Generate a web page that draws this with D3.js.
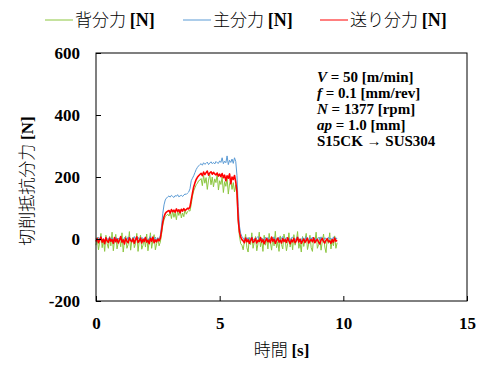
<!DOCTYPE html>
<html>
<head>
<meta charset="utf-8">
<script src="https://cdn.jsdelivr.net/npm/d3@7"></script>
<style>
  body { margin: 0; background: #fff; }
  .jp { font-family: "Noto Sans CJK JP", sans-serif; font-weight: 300; }
  .tm { font-family: "Liberation Serif", "Times New Roman", serif; font-weight: bold; }
</style>
</head>
<body>
<script>
const margin = {top: 53, right: 24, bottom: 77, left: 96};
const W = 491, H = 378;
const width  = W - margin.left - margin.right;
const height = H - margin.top - margin.bottom;

// sampling interval of the logged signal [s]
const sampleStep = 0.05;

const xTicks = [0, 5, 10, 15];
const yTicks = [-200, 0, 200, 400, 600];

const seriesNames  = ["背分力", "主分力", "送り分力"];
const seriesColors = ["#8cc63f", "#5b9bd5", "#ff0000"];

// 背分力 [N]
const backForce = [
  -20,5,-35,-10,18,-28,-2,-40,12,-15,
  -30,8,-22,22,-38,-5,15,-32,-12,3,
  -25,20,-42,-8,10,-30,-18,24,-36,-4,
  6,-28,-14,18,-40,-6,12,-33,-20,2,
  -26,16,-38,-10,20,-30,-4,14,-35,-16,
  4,-22,
  -10,15,45,62,72,76,80,
  74,88,66,92,70,85,62,90,76,95,68,84,72,96,80,88,92,
  90,112,138,155,165,175,180,188,190,
  195,172,205,180,198,160,190,208,175,200,168,194,182,210,158,188,176,200,150,185,170,196,145,178,188,160,182,152,175,
  140,55,10,-15,-20,
  -35,-8,15,-28,-42,5,-18,20,-30,-10,
  8,-38,-15,22,-25,-5,-40,12,-20,3,
  -32,18,-12,-36,6,-22,25,-28,-8,-40,
  10,-18,-32,16,-4,-38,-14,20,-26,2,
  -35,14,-20,-6,24,-30,-12,-42,8,-24,
  -2,18,-34,-16,12,-28,-40,4,-10,22,
  -30,-18,6,-36,-8,16,-26,-44,2,-14,
  20,-32,-6,-22,10,-30,-12
];

// 主分力 [N]
const mainForce = [
  3,-5,6,-2,8,-4,1,-7,5,2,
  -3,7,-6,4,0,-8,6,-1,3,-5,
  9,-2,-6,5,1,-4,7,-3,2,-7,
  4,8,-5,0,6,-3,-8,5,2,-4,
  7,-1,-6,3,9,-5,1,-2,6,-4,
  4,-3,
  12,42,82,110,126,132,136,
  139,135,141,137,134,140,138,143,136,139,141,137,142,145,144,148,152,
  162,188,196,204,214,224,231,236,240,
  243,238,246,241,244,248,240,245,249,243,247,242,250,246,244,252,247,262,243,251,246,268,240,254,247,258,244,262,250,
  205,105,42,18,8,
  3,-4,6,-2,5,-6,2,7,-3,1,
  -5,4,8,-2,-6,3,0,-4,6,-1,
  5,-7,2,4,-3,7,-5,1,-2,6,
  -4,3,8,-6,0,5,-3,2,-7,4,
  6,-2,-5,3,7,-4,1,-6,5,2,
  -3,8,-1,-5,4,0,6,-4,3,-7,
  2,5,-3,7,-2,-6,4,1,-4,6,
  -1,3,-5,7,-2,4,0
];

// 送り分力 [N]
const feedForce = [
  -8,2,-12,-3,6,-10,-1,-15,4,-6,
  -11,3,-7,-2,-14,5,-9,0,-13,-4,
  8,-10,-3,-16,2,-7,-12,4,-5,-9,
  1,-14,-2,7,-11,-6,3,-13,-1,-8,
  5,-10,-4,-15,2,-7,6,-12,-3,-9,
  0,-6,
  2,26,54,72,82,87,90,
  92,84,95,88,93,86,97,89,94,85,96,90,98,92,95,99,97,
  104,126,148,168,181,192,199,204,208,
  212,204,216,208,214,219,206,213,217,209,215,210,207,213,203,209,201,211,198,206,188,204,196,210,178,200,192,205,184,
  152,62,22,6,-2,
  -6,-12,3,-9,-2,-14,-5,4,-11,-7,
  1,-13,-4,-8,5,-10,-2,-15,-6,2,
  -9,-3,-12,6,-7,-1,-14,-5,3,-10,
  -4,-13,1,-8,-2,-11,4,-6,-15,-3,
  -9,2,-12,-5,5,-10,-1,-14,-7,0,
  -11,-4,3,-13,-6,-2,-9,4,-12,-5,
  -1,-10,-16,-3,2,-8,-13,-4,1,-9,
  -6,-14,-2,-10,3,-7,-4
];

const seriesValues = [backForce, mainForce, feedForce];

const svg = d3.select("body").append("svg")
  .attr("width", W)
  .attr("height", H);

const xScale = d3.scaleLinear().domain([0, 15]).range([0, width]);
const yScale = d3.scaleLinear().domain([-200, 600]).range([height, 0]);

const plot = svg.append("g")
  .attr("transform", `translate(${margin.left},${margin.top})`);

const lineGen = d3.line()
  .x((d, i) => xScale(i * sampleStep))
  .y(d => yScale(d));

seriesValues.forEach((vals, k) => {
  plot.append("path")
    .datum(vals)
    .attr("fill", "none")
    .attr("stroke", seriesColors[k])
    .attr("stroke-width", k === 2 ? 1.6 : 1)
    .attr("stroke-linejoin", "round")
    .attr("d", lineGen);
});

// frame
plot.append("rect")
  .attr("width", width)
  .attr("height", height)
  .attr("fill", "none")
  .attr("stroke", "#000")
  .attr("stroke-width", 1);

// plain hyphen for negatives, like the original sheet
const fmt = d => String(d);
const xAxis = d3.axisBottom(xScale).tickValues(xTicks).tickSize(-5).tickPadding(16).tickFormat(fmt);
const yAxis = d3.axisLeft(yScale).tickValues(yTicks).tickSize(-5).tickPadding(16).tickFormat(fmt);

const gx = plot.append("g").attr("transform", `translate(0,${height})`).call(xAxis);
const gy = plot.append("g").call(yAxis);
[gx, gy].forEach(g => {
  g.select(".domain").remove();
  g.selectAll("text")
    .attr("class", "tm")
    .attr("font-size", 17)
    .attr("fill", "#000");
  g.selectAll("line").attr("stroke", "#000");
});

// axis titles
const xt = svg.append("text")
  .attr("x", margin.left + width / 2)
  .attr("y", 356)
  .attr("text-anchor", "middle")
  .attr("font-size", 17);
xt.append("tspan").attr("class", "jp").text("時間 ");
xt.append("tspan").attr("class", "tm").text("[s]");

const yt = svg.append("text")
  .attr("transform", `translate(33,${margin.top + height / 2 + 4}) rotate(-90)`)
  .attr("text-anchor", "middle")
  .attr("font-size", 17);
yt.append("tspan").attr("class", "jp").text("切削抵抗分力 ");
yt.append("tspan").attr("class", "tm").text("[N]");

// legend
const legendX = [45, 183, 320];
seriesNames.forEach((name, k) => {
  const g = svg.append("g").attr("transform", `translate(${legendX[k]},20)`);
  g.append("line")
    .attr("x1", 0).attr("x2", 28)
    .attr("stroke", seriesColors[k])
    .attr("stroke-width", 1);
  const t = g.append("text")
    .attr("x", 30)
    .attr("y", 6)
    .attr("font-size", 17);
  t.append("tspan").attr("class", "jp").text(name + " ");
  t.append("tspan").attr("class", "tm").attr("font-size", 18).text("[N]");
});

// cutting conditions
const condLines = [
  [["V", true], [" = 50 [m/min]", false]],
  [["f", true], [" = 0.1 [mm/rev]", false]],
  [["N", true], [" = 1377 [rpm]", false]],
  [["ap", true], [" = 1.0 [mm]", false]],
  [["S15CK → SUS304", false]]
];
condLines.forEach((parts, i) => {
  const t = svg.append("text")
    .attr("class", "tm")
    .attr("x", 317)
    .attr("y", 82 + i * 16)
    .attr("font-size", 15);
  parts.forEach(([s, it]) => {
    t.append("tspan").attr("font-style", it ? "italic" : "normal").text(s);
  });
});
</script>
</body>
</html>
